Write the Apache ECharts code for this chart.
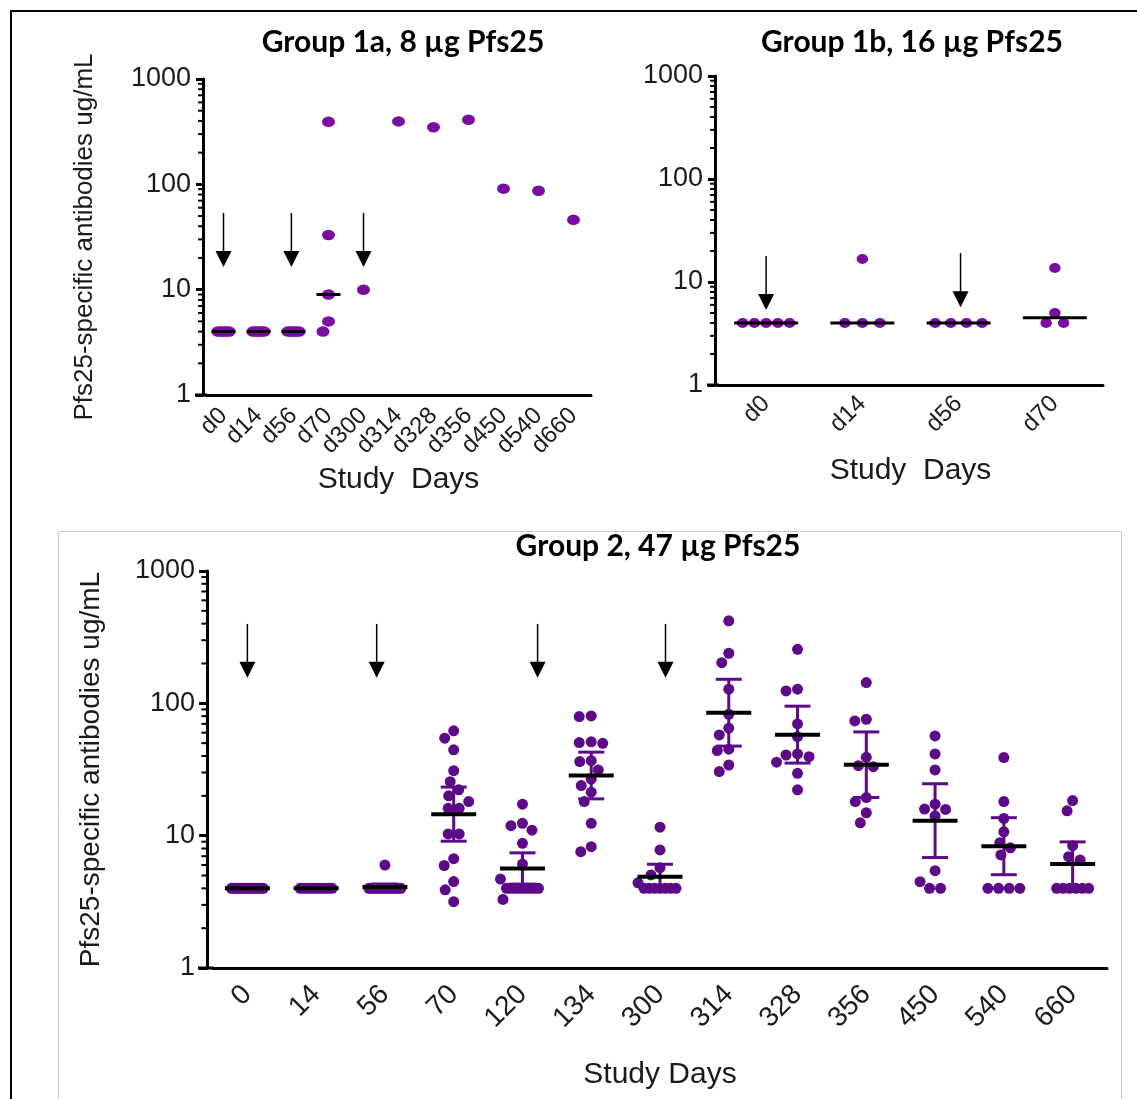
<!DOCTYPE html>
<html>
<head>
<meta charset="utf-8">
<title>Pfs25-specific antibodies by study day</title>
<script src="https://cdn.jsdelivr.net/npm/echarts@6/dist/echarts.min.js"></script>
<style>
  html, body { margin: 0; padding: 0; background: #fff; }
  #chart { width: 1137px; height: 1099px; }
</style>
</head>
<body>
<div id="chart"></div>
<script>
// ---------------- data (antibody titres, ug/mL) ----------------
const g1aDays = ['d0', 'd14', 'd56', 'd70', 'd300', 'd314', 'd328', 'd356', 'd450', 'd540', 'd660'];
const g1aTiters = [
  [4, 4, 4, 4, 4],
  [4, 4, 4, 4, 4],
  [4, 4, 4, 4, 4],
  [392, 33, 9, 5, 4],
  [10],
  [396],
  [348],
  [410],
  [91],
  [87],
  [46]
];
// vaccination arrows: [category position, arrow top, arrow tip]
const g1aDoses = [[0, 53.5, 16.4], [1.94, 53.5, 16.4], [4, 53.5, 16.4]];

const g1bDays = ['d0', 'd14', 'd56', 'd70'];
const g1bTiters = [
  [4, 4, 4, 4, 4],
  [16.7, 4, 4, 4],
  [4, 4, 4, 4],
  [13.7, 5, 4, 4]
];
const g1bDoses = [[0, 17.9, 5.35], [2.02, 19.1, 5.7]];

const g2Days = ['0', '14', '56', '70', '120', '134', '300', '314', '328', '356', '450', '540', '660'];
const g2Titers = [
  [4, 4, 4, 4, 4, 4, 4, 4, 4, 4, 4, 4, 4, 4, 4, 4, 4],
  [4, 4, 4, 4, 4, 4, 4, 4, 4, 4, 4],
  [6, 4, 4, 4, 4, 4, 4, 4, 4, 4, 4, 4, 4, 4, 4, 4, 4],
  [62, 54.5, 44.5, 31, 25.6, 22.2, 20, 18.1, 16.1, 16.1, 10.3, 10.3, 6.7, 5.95, 4.5, 3.9, 3.17],
  [17.3, 12.4, 11.9, 11, 8.75, 6.1, 4.7, 4, 4, 4, 4, 4, 4, 4, 4, 4, 3.3],
  [80.3, 79.4, 51.2, 49.9, 50.5, 36.9, 36.3, 31.4, 26.7, 23.9, 21.3, 18.1, 12.4, 8.26, 7.57],
  [11.6, 7.8, 5.73, 5.05, 4.4, 4, 4, 4, 4, 4, 4, 4],
  [420, 239, 203, 128, 82.7, 64.9, 57.7, 45, 44, 34.2, 30.5],
  [256, 128, 124, 69.9, 56, 41.5, 40.7, 39.5, 35.9, 29.6, 22.2],
  [143.5, 75.8, 73.6, 39.1, 33.8, 33.2, 19.4, 18.1, 14.9, 12.5],
  [56.7, 41.5, 31.4, 17.3, 15.9, 15.8, 14.1, 5.44, 4.49, 4, 4],
  [38.9, 18.1, 13.5, 10.7, 8.85, 8.1, 7.15, 4, 4, 4, 4],
  [18.4, 15.4, 8.4, 6.94, 6.55, 4, 4, 4, 4, 4, 4]
];
const g2Doses = [[0, 398, 156], [1.88, 398, 156], [4.22, 398, 156], [6.08, 398, 156]];

const yTickValues = [1, 10, 100, 1000];
const yTitle = 'Pfs25-specific antibodies ug/mL';

// two-sided 95% t quantiles, df = 1..30
const T975 = [12.706, 4.303, 3.182, 2.776, 2.571, 2.447, 2.365, 2.306, 2.262, 2.228,
  2.201, 2.179, 2.160, 2.145, 2.131, 2.120, 2.110, 2.101, 2.093, 2.086,
  2.080, 2.074, 2.069, 2.064, 2.060, 2.056, 2.052, 2.048, 2.045, 2.042];

// ---------------- helpers ----------------
const FONT = "'Liberation Sans', Arial, sans-serif";
const TITLE_FONT = "Lato, 'Open Sans', sans-serif";
const INK = '#1a1a1a';

function median(vals) {
  const s = vals.slice().sort((a, b) => a - b);
  const m = s.length >> 1;
  return s.length % 2 ? s[m] : (s[m - 1] + s[m]) / 2;
}

// geometric mean with 95% confidence interval
function geoStats(vals) {
  const L = vals.map(Math.log10);
  const n = L.length;
  const m = L.reduce((a, b) => a + b, 0) / n;
  if (n < 2) return [10 ** m, 10 ** m, 10 ** m];
  const sd = Math.sqrt(L.reduce((a, b) => a + (b - m) ** 2, 0) / (n - 1));
  const half = T975[Math.min(n - 2, T975.length - 1)] * sd / Math.sqrt(n);
  return [10 ** m, 10 ** (m - half), 10 ** (m + half)];
}

// column scatter layout: equal values share a row, other points are swarmed
function swarm(vals, pxPerDecade, dot, rowGap, rowSpread, maxHalf) {
  const toY = v => -Math.log10(v) * pxPerDecade;
  const placed = [];
  const tally = new Map();
  vals.forEach(v => tally.set(v, (tally.get(v) || 0) + 1));
  const singles = [];
  tally.forEach((m, v) => {
    if (m > 1) {
      const gap = Math.min(rowGap, rowSpread / (m - 1));
      for (let i = 0; i < m; i++) placed.push({ v, y: toY(v), x: (i - (m - 1) / 2) * gap });
    } else {
      singles.push(v);
    }
  });
  singles.sort((a, b) => b - a);
  const nearest = (x, y) => {
    let d = Infinity;
    for (const p of placed) {
      const q = ((x - p.x) / dot[0]) ** 2 + ((y - p.y) / dot[1]) ** 2;
      if (q < d) d = q;
    }
    return d;
  };
  singles.forEach(v => {
    const y = toY(v);
    let best = 0, bestD = -1;
    const steps = Math.round(maxHalf / 0.5) * 2;
    for (let k = 0; k <= steps; k++) {
      const x = Math.ceil(k / 2) * 0.5 * (k % 2 ? -1 : 1);
      const d = nearest(x, y);
      if (d >= 1.1) { best = x; break; }
      if (d > bestD) { bestD = d; best = x; }
    }
    placed.push({ v, y, x: best });
  });
  return placed;
}

// ---------------- panel settings ----------------
const panels = [
  {
    title: 'Group 1a, 8 µg Pfs25', titleX: 403, titleY: 27, titleSize: 30,
    days: g1aDays, titers: g1aTiters, doses: g1aDoses,
    grid: { left: 206, top: 79, width: 385, height: 316 },
    axisOffset: 3, dot: [13, 10.5], color: '#7b0ca2',
    rowGap: 11, rowSpread: 11, maxHalf: 9, stat: 'median', lineHalf: 12,
    yLabelSize: 27, yTick: 7, yLabelMargin: 12,
    xLabelSize: 24, xLabelMargin: 17, xTick: 9,
    yName: yTitle, yNameSize: 26, yNameGap: 105,
    xName: 'Study  Days', xNameSize: 30, xNameGap: 70
  },
  {
    title: 'Group 1b, 16 µg Pfs25', titleX: 912, titleY: 27, titleSize: 30,
    days: g1bDays, titers: g1bTiters, doses: g1bDoses,
    grid: { left: 718, top: 76, width: 385, height: 309 },
    axisOffset: 3, dot: [11.5, 10], color: '#7b0ca2',
    rowGap: 17.5, rowSpread: 47, maxHalf: 30, stat: 'median', lineHalf: 32,
    yLabelSize: 27, yTick: 7, yLabelMargin: 12,
    xLabelSize: 24, xLabelMargin: 15, xTick: 9,
    yName: '', yNameSize: 26, yNameGap: 100,
    xName: 'Study  Days', xNameSize: 30, xNameGap: 71
  },
  {
    title: 'Group 2, 47 µg Pfs25', titleX: 658, titleY: 531, titleSize: 30,
    days: g2Days, titers: g2Titers, doses: g2Doses,
    grid: { left: 213, top: 571, width: 894, height: 397 },
    axisOffset: 6, dot: [11, 11], color: '#5c0a87',
    rowGap: 11, rowSpread: 32, maxHalf: 22, stat: 'gmci', lineHalf: 22.5,
    yLabelSize: 27, yTick: 8, yLabelMargin: 12,
    xLabelSize: 28, xLabelMargin: 22, xTick: 11,
    yName: yTitle, yNameSize: 28, yNameGap: 102,
    xName: 'Study Days', xNameSize: 30, xNameGap: 92
  }
];

// ---------------- option assembly ----------------
const grid = [], xAxis = [], yAxis = [], series = [], graphic = [];

panels.forEach((p, gi) => {
  grid.push(Object.assign({ containLabel: false }, p.grid));
  const nCat = p.days.length;
  const band = p.grid.width / nCat;
  const pxPerDecade = p.grid.height / 3;

  xAxis.push({
    type: 'category', gridIndex: gi, data: p.days, boundaryGap: true,
    axisLine: { onZero: false, lineStyle: { color: '#000', width: 3 } },
    axisTick: { alignWithLabel: true, length: p.xTick, lineStyle: { color: '#000', width: 3 } },
    axisLabel: { rotate: 45, interval: 0, fontSize: p.xLabelSize, fontFamily: FONT, color: INK, margin: p.xLabelMargin },
    splitLine: { show: false },
    name: p.xName, nameLocation: 'middle', nameGap: p.xNameGap,
    nameTextStyle: { fontSize: p.xNameSize, fontFamily: FONT, color: INK }
  });
  xAxis.push({ type: 'value', gridIndex: gi, min: -0.5, max: nCat - 0.5, show: false });

  yAxis.push({
    type: 'log', logBase: 10, gridIndex: gi, min: yTickValues[0], max: yTickValues[yTickValues.length - 1],
    offset: p.axisOffset,
    axisLine: { show: true, onZero: false, lineStyle: { color: '#000', width: 3 } },
    axisTick: { show: true, length: p.yTick, lineStyle: { color: '#000', width: 3 } },
    axisLabel: { fontSize: p.yLabelSize, fontFamily: FONT, color: INK, margin: p.yLabelMargin,
      formatter: v => String(Math.round(v)) },
    splitLine: { show: false },
    name: p.yName, nameLocation: 'middle', nameGap: p.yNameGap, nameRotate: 90,
    nameTextStyle: { fontSize: p.yNameSize, fontFamily: FONT, color: INK }
  });

  const xVal = gi * 2 + 1;

  // individual participants
  const pts = [];
  p.titers.forEach((vals, i) => {
    swarm(vals, pxPerDecade, p.dot, p.rowGap, p.rowSpread, p.maxHalf)
      .forEach(q => pts.push([i + q.x / band, q.v]));
  });
  series.push({
    type: 'scatter', xAxisIndex: xVal, yAxisIndex: gi, data: pts,
    symbol: 'circle', symbolSize: p.dot, itemStyle: { color: p.color, opacity: 1 },
    silent: true, z: 3
  });

  // minor log ticks at 2..9 of each decade
  const minor = [];
  for (let d = yTickValues[0]; d < yTickValues[yTickValues.length - 1]; d *= 10) {
    for (let k = 2; k <= 9; k++) minor.push([-0.5, d * k]);
  }
  const off = p.axisOffset, major = p.yTick;
  series.push({
    type: 'custom', xAxisIndex: xVal, yAxisIndex: gi, data: minor, silent: true, z: 2,
    renderItem: (params, api) => {
      const c = api.coord([api.value(0), api.value(1)]);
      return { type: 'line', shape: { x1: c[0] - off - major * 0.7, y1: c[1], x2: c[0] - off, y2: c[1] },
        style: { stroke: '#000', lineWidth: 2 } };
    }
  });
  // x axis run-in to the left of the y axis
  series.push({
    type: 'custom', xAxisIndex: xVal, yAxisIndex: gi, data: [[-0.5, yTickValues[0]]], silent: true, z: 2,
    renderItem: (params, api) => {
      const c = api.coord([api.value(0), api.value(1)]);
      return { type: 'line', shape: { x1: c[0] - off - major - 1, y1: c[1], x2: c[0] + 1, y2: c[1] },
        style: { stroke: '#000', lineWidth: 3 } };
    }
  });

  // summary lines
  if (p.stat === 'median') {
    const med = [];
    p.titers.forEach((vals, i) => { if (vals.length > 1) med.push([i, median(vals)]); });
    const half = p.lineHalf;
    series.push({
      type: 'custom', xAxisIndex: xVal, yAxisIndex: gi, data: med, silent: true, z: 5,
      renderItem: (params, api) => {
        const c = api.coord([api.value(0), api.value(1)]);
        return { type: 'line', shape: { x1: c[0] - half, y1: c[1], x2: c[0] + half, y2: c[1] },
          style: { stroke: '#000', lineWidth: 3 } };
      }
    });
  } else {
    const gm = p.titers.map((vals, i) => [i].concat(geoStats(vals)));
    const half = p.lineHalf, cap = 13, col = p.color;
    series.push({
      type: 'custom', xAxisIndex: xVal, yAxisIndex: gi, data: gm, silent: true, z: 5,
      dimensions: ['x', 'gm', 'lo', 'hi'], encode: { x: 0, y: 1 },
      renderItem: (params, api) => {
        const x = api.value(0);
        const c = api.coord([x, api.value(1)]);
        const lo = api.coord([x, api.value(2)]);
        const hi = api.coord([x, api.value(3)]);
        return {
          type: 'group', children: [
            { type: 'line', shape: { x1: c[0], y1: lo[1], x2: c[0], y2: hi[1] }, style: { stroke: col, lineWidth: 3 } },
            { type: 'line', shape: { x1: c[0] - cap, y1: lo[1], x2: c[0] + cap, y2: lo[1] }, style: { stroke: col, lineWidth: 3 } },
            { type: 'line', shape: { x1: c[0] - cap, y1: hi[1], x2: c[0] + cap, y2: hi[1] }, style: { stroke: col, lineWidth: 3 } },
            { type: 'line', shape: { x1: c[0] - half, y1: c[1], x2: c[0] + half, y2: c[1] }, style: { stroke: '#000', lineWidth: 4 } }
          ]
        };
      }
    });
  }

  // vaccination arrows
  series.push({
    type: 'custom', xAxisIndex: xVal, yAxisIndex: gi, data: p.doses, silent: true, z: 6,
    renderItem: (params, api) => {
      const top = api.coord([api.value(0), api.value(1)]);
      const tip = api.coord([api.value(0), api.value(2)]);
      const hh = 16, hw = 8;
      return {
        type: 'group', children: [
          { type: 'line', shape: { x1: top[0], y1: top[1], x2: tip[0], y2: tip[1] - hh + 1 }, style: { stroke: '#000', lineWidth: 1.5 } },
          { type: 'polygon', shape: { points: [[tip[0] - hw, tip[1] - hh], [tip[0] + hw, tip[1] - hh], [tip[0], tip[1]]] }, style: { fill: '#000' } }
        ]
      };
    }
  });

  // panel heading
  graphic.push({
    type: 'text', x: p.titleX, y: p.titleY, silent: true,
    style: { text: p.title, align: 'center', verticalAlign: 'top', fill: '#000',
      font: 'bold ' + p.titleSize + 'px ' + TITLE_FONT }
  });
});

// figure frame and the lower panel's box
graphic.unshift(
  { type: 'rect', silent: true, shape: { x: 11, y: 11, width: 1200, height: 1200 },
    style: { fill: 'none', stroke: '#000', lineWidth: 2 } },
  { type: 'rect', silent: true, shape: { x: 58.5, y: 531.5, width: 1063, height: 700 },
    style: { fill: 'none', stroke: '#c9c9c9', lineWidth: 1 } }
);

const chart = echarts.init(document.getElementById('chart'), null, { renderer: 'canvas' });
chart.setOption({
  backgroundColor: '#fff',
  animation: false,
  grid, xAxis, yAxis, series, graphic
});
</script>
</body>
</html>
